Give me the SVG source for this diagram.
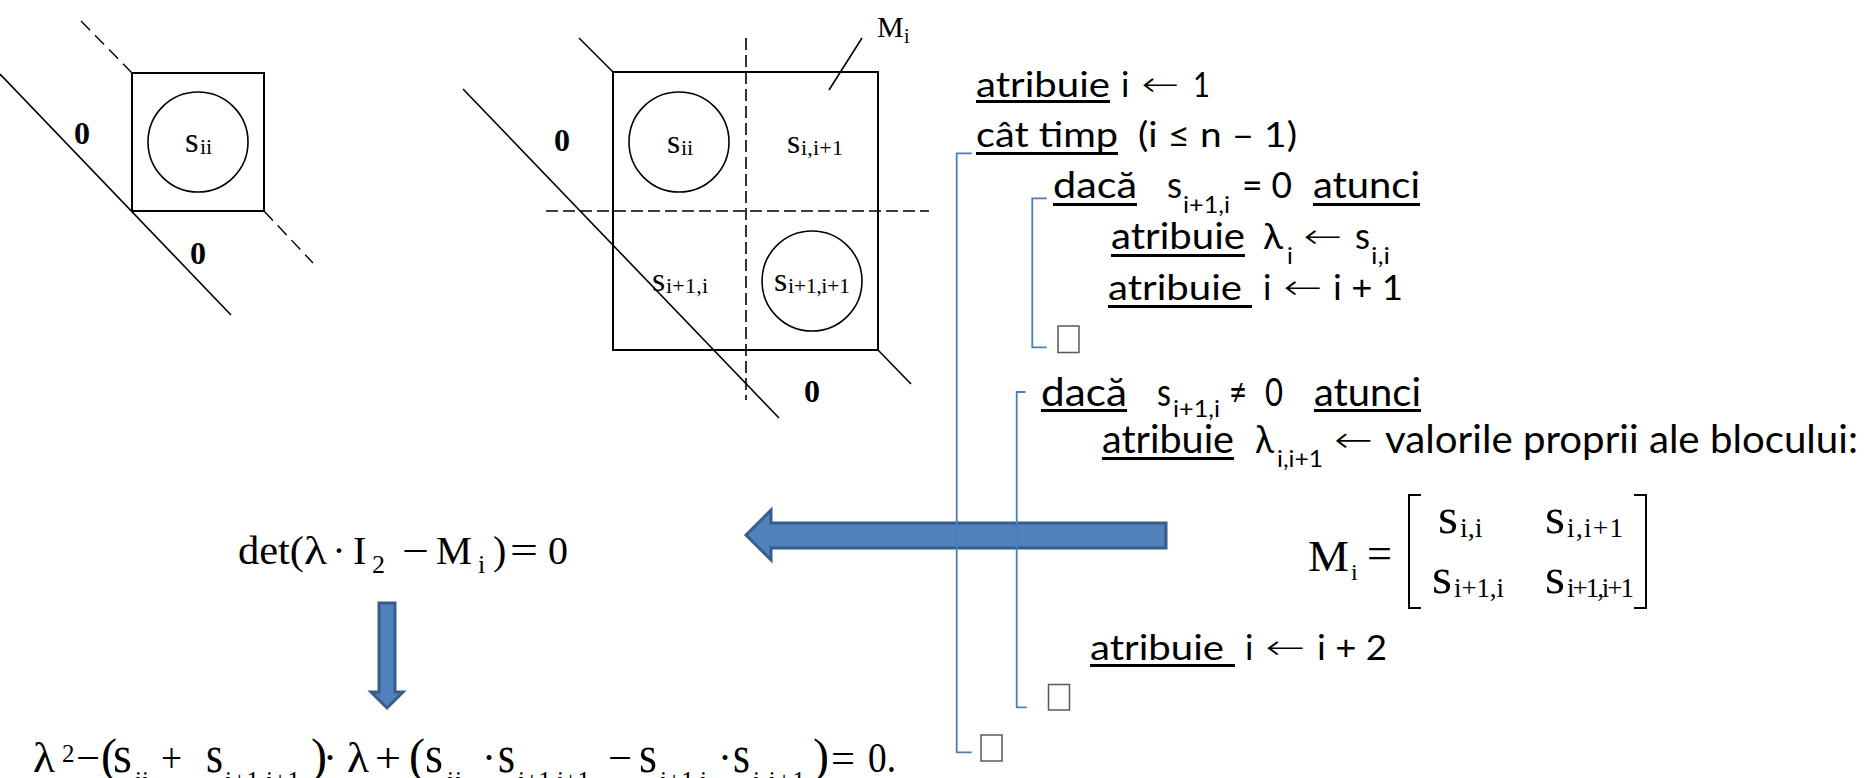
<svg xmlns="http://www.w3.org/2000/svg" width="1864" height="778" viewBox="0 0 1864 778">
<style>
.ln{stroke:#000;stroke-width:1.6;fill:none}
.bx{stroke:#000;stroke-width:2;fill:none}
.d1{stroke:#000;stroke-width:1.4;fill:none;stroke-dasharray:13 7}
.d2{stroke:#000;stroke-width:1.6;fill:none;stroke-dasharray:12 5}
.tm{font-family:"Liberation Serif","Times New Roman",serif;fill:#000}
.z{font-family:"Liberation Serif",serif;font-weight:bold;font-size:32px;fill:#000}
.cb{font-family:Lato,"DejaVu Sans",sans-serif;fill:#000}
.ar{font-family:"DejaVu Sans",sans-serif;font-weight:200;fill:#000}
.ul{fill:#000}
.br{stroke:#4A7EBB;stroke-width:1.8;fill:none}
.tofu{stroke:#595959;stroke-width:1.5;fill:none}
.arr{fill:#4F81BD;stroke:#385D8A;stroke-width:3;stroke-linejoin:miter}
.mb{stroke:#000;stroke-width:2;fill:none}
</style>

<g id="diagram1">
<line class="d1" x1="81" y1="21" x2="132" y2="73"/>
<line class="d1" x1="264" y1="211" x2="313" y2="263"/>
<line class="ln" x1="0" y1="74" x2="231" y2="315"/>
<rect class="bx" x="132" y="73" width="132" height="138"/>
<circle class="ln" cx="198" cy="142" r="50"/>
<text class="tm" x="185" y="152" font-size="35">s</text>
<text class="tm" x="200" y="154" font-size="22">ii</text>
<text class="z" x="74" y="144">0</text>
<text class="z" x="190" y="264">0</text>
</g>

<g id="diagram2">
<line class="ln" x1="579" y1="38" x2="613" y2="72"/>
<line class="ln" x1="878" y1="350" x2="911" y2="384"/>
<rect class="bx" x="613" y="72" width="265" height="278"/>
<line class="d2" x1="746" y1="38" x2="746" y2="400"/>
<line class="d2" x1="546" y1="211" x2="929" y2="211"/>
<line class="ln" x1="463" y1="89" x2="779" y2="418"/>
<circle class="ln" cx="679" cy="142" r="50"/>
<circle class="ln" cx="812" cy="281" r="50"/>
<text class="tm" x="667" y="153" font-size="34">s</text>
<text class="tm" x="681" y="155" font-size="22">ii</text>
<text class="tm" x="787" y="153" font-size="34">s</text>
<text class="tm" x="801" y="155" font-size="22" textLength="42" lengthAdjust="spacing">i,i+1</text>
<text class="tm" x="652" y="291" font-size="34">s</text>
<text class="tm" x="666" y="293" font-size="22" textLength="42" lengthAdjust="spacing">i+1,i</text>
<text class="tm" x="774" y="291" font-size="34">s</text>
<text class="tm" x="788" y="293" font-size="22" textLength="62" lengthAdjust="spacing">i+1,i+1</text>
<line class="ln" x1="862" y1="38" x2="829" y2="90"/>
<text class="tm" x="877" y="37" font-size="30">M</text>
<text class="tm" x="904" y="43" font-size="20">i</text>
<text class="z" x="554" y="151">0</text>
<text class="z" x="804" y="402">0</text>
</g>

<g id="det-formula">
<text class="tm" x="238" y="564" font-size="40" textLength="66" lengthAdjust="spacingAndGlyphs">det(</text>
<text class="tm" x="304" y="564" font-size="40" textLength="23" lengthAdjust="spacingAndGlyphs">λ</text>
<text class="tm" x="339" y="564" font-size="40" text-anchor="middle">·</text>
<text class="tm" x="353" y="564" font-size="40">I</text>
<text class="tm" x="372" y="573" font-size="26">2</text>
<text class="tm" x="402" y="564" font-size="40" textLength="27" lengthAdjust="spacingAndGlyphs">−</text>
<text class="tm" x="436" y="564" font-size="40" textLength="36" lengthAdjust="spacingAndGlyphs">M</text>
<text class="tm" x="478" y="573" font-size="26">i</text>
<text class="tm" x="493" y="564" font-size="40">)</text>
<text class="tm" x="510" y="564" font-size="40" textLength="28" lengthAdjust="spacingAndGlyphs">=</text>
<text class="tm" x="548" y="564" font-size="40">0</text>
</g>

<g id="char-equation">
<text class="tm" x="33" y="772" font-size="42" textLength="22" lengthAdjust="spacingAndGlyphs">λ</text>
<text class="tm" x="62" y="762" font-size="25">2</text>
<text class="tm" x="76" y="772" font-size="42" textLength="24" lengthAdjust="spacingAndGlyphs">−</text>
<text class="tm" x="101" y="772" font-size="48">(</text>
<text class="tm" x="113" y="772" font-size="52" textLength="19" lengthAdjust="spacingAndGlyphs">s</text>
<text class="tm" x="135" y="789" font-size="25" textLength="14" lengthAdjust="spacing">i,i</text>
<text class="tm" x="161" y="772" font-size="42" textLength="21" lengthAdjust="spacingAndGlyphs">+</text>
<text class="tm" x="206" y="772" font-size="52" textLength="17" lengthAdjust="spacingAndGlyphs">s</text>
<text class="tm" x="225" y="789" font-size="25" textLength="75" lengthAdjust="spacing">i+1,i+1</text>
<text class="tm" x="311" y="772" font-size="48">)</text>
<text class="tm" x="330" y="772" font-size="42" text-anchor="middle">·</text>
<text class="tm" x="347" y="772" font-size="42" textLength="22" lengthAdjust="spacingAndGlyphs">λ</text>
<text class="tm" x="375" y="772" font-size="42" textLength="26" lengthAdjust="spacingAndGlyphs">+</text>
<text class="tm" x="409" y="772" font-size="48">(</text>
<text class="tm" x="425" y="772" font-size="52" textLength="18" lengthAdjust="spacingAndGlyphs">s</text>
<text class="tm" x="447" y="789" font-size="25" textLength="15" lengthAdjust="spacing">i,i</text>
<text class="tm" x="489" y="772" font-size="42" text-anchor="middle">·</text>
<text class="tm" x="498" y="772" font-size="52" textLength="17" lengthAdjust="spacingAndGlyphs">s</text>
<text class="tm" x="518" y="789" font-size="25" textLength="72" lengthAdjust="spacing">i+1,i+1</text>
<text class="tm" x="608" y="772" font-size="42" textLength="24" lengthAdjust="spacingAndGlyphs">−</text>
<text class="tm" x="639" y="772" font-size="52" textLength="18" lengthAdjust="spacingAndGlyphs">s</text>
<text class="tm" x="660" y="789" font-size="25" textLength="47" lengthAdjust="spacing">i+1,i</text>
<text class="tm" x="725" y="772" font-size="42" text-anchor="middle">·</text>
<text class="tm" x="733" y="772" font-size="52" textLength="17" lengthAdjust="spacingAndGlyphs">s</text>
<text class="tm" x="753" y="789" font-size="25" textLength="52" lengthAdjust="spacing">i,i+1</text>
<text class="tm" x="813" y="772" font-size="48">)</text>
<text class="tm" x="831" y="772" font-size="42" textLength="24" lengthAdjust="spacingAndGlyphs">=</text>
<text class="tm" x="868" y="772" font-size="42" textLength="28" lengthAdjust="spacingAndGlyphs">0.</text>
</g>

<g id="connectors">
<path id="arrow-left" class="arr" d="M746,535 L771,510 L771,523 L1166,523 L1166,548 L771,548 L771,560 Z"/>
<path id="arrow-down" class="arr" d="M379,603 H395 V692 H403 L387,708 L371,692 H379 Z"/>
</g>

<g id="brackets">
<path class="br" d="M971.7,153.3 H956.7 V752.3 H971.7"/>
<path class="br" d="M1046.7,198.3 H1032.3 V347.3 H1046.7"/>
<path class="br" d="M1025.5,392 H1016.7 V707.3 H1026.7"/>
</g>

<g id="line1">
<text class="cb" x="976" y="97" font-size="35" textLength="134" lengthAdjust="spacingAndGlyphs">atribuie</text>
<rect class="ul" x="976" y="100" width="134" height="3"/>
<text class="cb" x="1121" y="97" font-size="35">i</text>
<text class="ar" x="1141" y="96" font-size="34" textLength="38" lengthAdjust="spacingAndGlyphs">←</text>
<text class="cb" x="1193" y="97" font-size="35" textLength="17" lengthAdjust="spacingAndGlyphs">1</text>
</g>

<g id="line2">
<text class="cb" x="976" y="147" font-size="35" textLength="142" lengthAdjust="spacingAndGlyphs">cât timp</text>
<rect class="ul" x="976" y="152" width="142" height="3"/>
<text class="cb" x="1138" y="147" font-size="35" textLength="159" lengthAdjust="spacingAndGlyphs">(i ≤ n – 1)</text>
</g>

<g id="line3">
<text class="cb" x="1053" y="198" font-size="36" textLength="84" lengthAdjust="spacingAndGlyphs">dacă</text>
<rect class="ul" x="1053" y="203" width="84" height="3"/>
<text class="cb" x="1167" y="198" font-size="36" textLength="15" lengthAdjust="spacingAndGlyphs">s</text>
<text class="cb" x="1183" y="213" font-size="24" textLength="47" lengthAdjust="spacingAndGlyphs">i+1,i</text>
<text class="cb" x="1242" y="198" font-size="36" textLength="50" lengthAdjust="spacingAndGlyphs">= 0</text>
<text class="cb" x="1313" y="198" font-size="36" textLength="107" lengthAdjust="spacingAndGlyphs">atunci</text>
<rect class="ul" x="1313" y="203" width="107" height="3"/>
</g>

<g id="line4">
<text class="cb" x="1111" y="249" font-size="36" textLength="134" lengthAdjust="spacingAndGlyphs">atribuie</text>
<rect class="ul" x="1111" y="254" width="134" height="3"/>
<text class="cb" x="1263" y="249" font-size="36" textLength="20" lengthAdjust="spacingAndGlyphs">λ</text>
<text class="cb" x="1287" y="264" font-size="24">i</text>
<text class="ar" x="1303" y="248" font-size="34" textLength="39" lengthAdjust="spacingAndGlyphs">←</text>
<text class="cb" x="1355" y="249" font-size="36" textLength="15" lengthAdjust="spacingAndGlyphs">s</text>
<text class="cb" x="1371" y="264" font-size="24" textLength="19" lengthAdjust="spacingAndGlyphs">i,i</text>
</g>

<g id="line5">
<text class="cb" x="1108" y="300" font-size="35" textLength="134" lengthAdjust="spacingAndGlyphs">atribuie</text>
<rect class="ul" x="1108" y="305" width="144" height="3"/>
<text class="cb" x="1263" y="300" font-size="35">i</text>
<text class="ar" x="1283" y="299" font-size="34" textLength="39" lengthAdjust="spacingAndGlyphs">←</text>
<text class="cb" x="1333" y="300" font-size="35" textLength="70" lengthAdjust="spacingAndGlyphs">i + 1</text>
<rect class="tofu" x="1058" y="326" width="21" height="26.5"/>
</g>

<g id="line6">
<text class="cb" x="1041" y="406" font-size="39" textLength="86" lengthAdjust="spacingAndGlyphs">dacă</text>
<rect class="ul" x="1041" y="409" width="86" height="3"/>
<text class="cb" x="1157" y="406" font-size="39" textLength="14" lengthAdjust="spacingAndGlyphs">s</text>
<text class="cb" x="1173" y="417" font-size="24" textLength="47" lengthAdjust="spacingAndGlyphs">i+1,i</text>
<text class="cb" x="1229" y="406" font-size="39" textLength="18" lengthAdjust="spacingAndGlyphs">≠</text>
<text class="cb" x="1265" y="406" font-size="39" textLength="18" lengthAdjust="spacingAndGlyphs">0</text>
<text class="cb" x="1314" y="406" font-size="39" textLength="107" lengthAdjust="spacingAndGlyphs">atunci</text>
<rect class="ul" x="1314" y="409" width="107" height="3"/>
</g>

<g id="line7">
<text class="cb" x="1102" y="453" font-size="39" textLength="132" lengthAdjust="spacingAndGlyphs">atribuie</text>
<rect class="ul" x="1102" y="457" width="132" height="3"/>
<text class="cb" x="1255" y="453" font-size="39" textLength="19" lengthAdjust="spacingAndGlyphs">λ</text>
<text class="cb" x="1277" y="467" font-size="24" textLength="46" lengthAdjust="spacingAndGlyphs">i,i+1</text>
<text class="ar" x="1334" y="452" font-size="36" textLength="39" lengthAdjust="spacingAndGlyphs">←</text>
<text class="cb" x="1385" y="453" font-size="39" textLength="473" lengthAdjust="spacingAndGlyphs">valorile proprii ale blocului:</text>
</g>

<g id="matrix">
<text class="tm" x="1308" y="571" font-size="45" textLength="41" lengthAdjust="spacingAndGlyphs">M</text>
<text class="tm" x="1351" y="580" font-size="24">i</text>
<text class="tm" x="1367" y="568" font-size="45" textLength="25" lengthAdjust="spacingAndGlyphs">=</text>
<path class="mb" d="M1421,495 H1409 V608 H1421"/>
<path class="mb" d="M1634,495 H1646 V608 H1634"/>
<text class="tm" x="1438" y="533" font-size="50" textLength="20" lengthAdjust="spacingAndGlyphs">s</text>
<text class="tm" x="1460" y="537" font-size="28">i,i</text>
<text class="tm" x="1545" y="533" font-size="50" textLength="20" lengthAdjust="spacingAndGlyphs">s</text>
<text class="tm" x="1567" y="537" font-size="27" textLength="56" lengthAdjust="spacing">i,i+1</text>
<text class="tm" x="1432" y="593" font-size="50" textLength="20" lengthAdjust="spacingAndGlyphs">s</text>
<text class="tm" x="1454" y="597" font-size="27" textLength="50" lengthAdjust="spacing">i+1,i</text>
<text class="tm" x="1545" y="593" font-size="50" textLength="20" lengthAdjust="spacingAndGlyphs">s</text>
<text class="tm" x="1567" y="597" font-size="27" textLength="67" lengthAdjust="spacing">i+1,i+1</text>
</g>

<g id="line8">
<text class="cb" x="1090" y="660" font-size="35" textLength="134" lengthAdjust="spacingAndGlyphs">atribuie</text>
<rect class="ul" x="1090" y="664" width="145" height="3"/>
<text class="cb" x="1245" y="660" font-size="35">i</text>
<text class="ar" x="1265" y="659" font-size="34" textLength="40" lengthAdjust="spacingAndGlyphs">←</text>
<text class="cb" x="1317" y="660" font-size="35" textLength="70" lengthAdjust="spacingAndGlyphs">i + 2</text>
<rect class="tofu" x="1048.5" y="684.5" width="21" height="25.5"/>
<rect class="tofu" x="981" y="735" width="21" height="26"/>
</g>
</svg>
